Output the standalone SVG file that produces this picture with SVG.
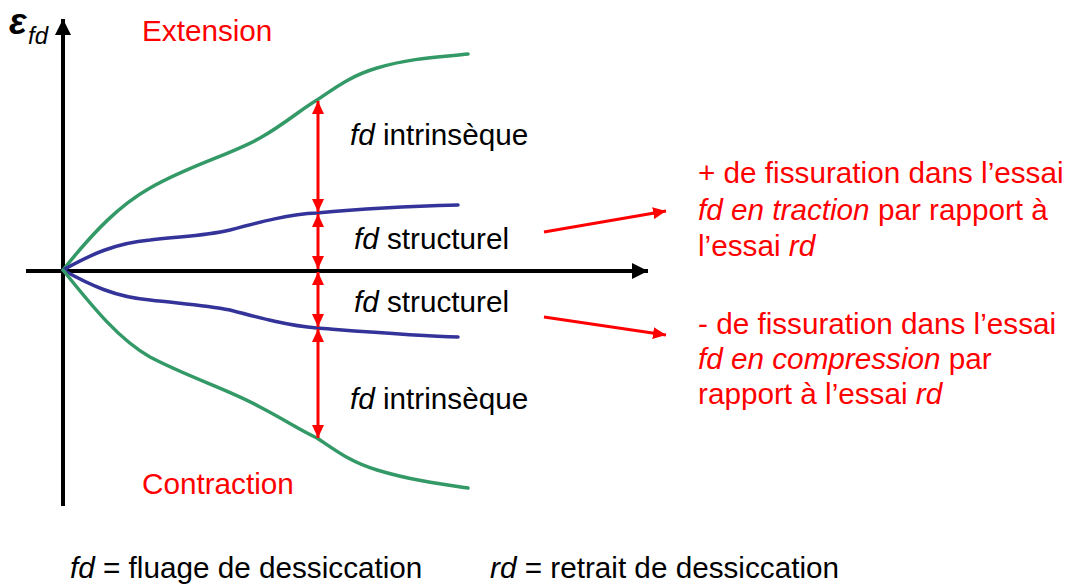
<svg xmlns="http://www.w3.org/2000/svg" width="1070" height="586" viewBox="0 0 1070 586">
<style>
text{font-family:"Liberation Sans",Arial,sans-serif;font-size:29.7px}
.r{fill:#ff0000}
.k{fill:#000}
.i{font-style:italic}
.curve{fill:none;stroke-width:3.5;stroke-linecap:round}
.g{stroke:#339966}
.b{stroke:#333399}
.ax{stroke:#000;stroke-width:4;fill:none}
.ra{stroke:#ff0000;stroke-width:3;fill:none}
</style>
<defs>
<marker id="ka" markerUnits="userSpaceOnUse" markerWidth="18" markerHeight="16" refX="16" refY="8" orient="auto"><path d="M0,0 L16,8 L0,16 Z" fill="#000"/></marker>
<marker id="rae" markerUnits="userSpaceOnUse" markerWidth="14" markerHeight="12" refX="13" refY="6" orient="auto"><path d="M0,0 L13,6 L0,12 Z" fill="#ff0000"/></marker>
<marker id="ras" markerUnits="userSpaceOnUse" markerWidth="14" markerHeight="12" refX="0" refY="6" orient="auto"><path d="M13,0 L0,6 L13,12 Z" fill="#ff0000"/></marker>
</defs>
<g id="axes">
<line class="ax" x1="63" y1="506" x2="63" y2="19" marker-end="url(#ka)"/>
<line class="ax" x1="26" y1="271" x2="648" y2="271" marker-end="url(#ka)"/>
</g>
<g id="curves">
<path id="green-up" class="curve g" d="M63,270 C95,230 120,205 150,188 C190,165 230,155 260,138 C285,124 300,110 317,100 C335,88 350,76 377,68 C410,58 440,57 468,54"/>
<path id="blue-up" class="curve b" d="M63,270 C90,255 115,243 150,240 C185,236 205,236 230,230 C260,222 290,214 317,213 C370,208 420,206 458,205"/>
<path id="blue-down" class="curve b" d="M63,270 C90,285 115,297 150,300 C185,304 205,305 230,310 C260,318 290,326 317,328 C370,332 420,336 458,337"/>
<path id="green-down" class="curve g" d="M63,270 C95,310 120,340 150,357 C190,378 230,390 260,407 C285,420 300,430 317,438 C335,450 350,462 377,470 C410,480 440,484 468,488"/>
</g>
<g id="connectors">
<line class="ra" x1="318" y1="101" x2="318" y2="212" marker-start="url(#ras)" marker-end="url(#rae)"/>
<line class="ra" x1="318" y1="214" x2="318" y2="269" marker-start="url(#ras)" marker-end="url(#rae)"/>
<line class="ra" x1="318" y1="272" x2="318" y2="327" marker-start="url(#ras)" marker-end="url(#rae)"/>
<line class="ra" x1="318" y1="329" x2="318" y2="438" marker-start="url(#ras)" marker-end="url(#rae)"/>
<line class="ra" x1="544" y1="232" x2="666" y2="211" marker-end="url(#rae)"/>
<line class="ra" x1="544" y1="317" x2="666" y2="335" marker-end="url(#rae)"/>
</g>
<g id="axis-label">
<text x="9" y="34" class="k" style="font-size:37px;font-weight:bold;font-style:italic">ε</text>
<text x="28" y="44" class="k i" style="font-size:24px">fd</text>
</g>
<g id="labels">
<text x="142" y="41" class="r">Extension</text>
<text x="142" y="494" class="r">Contraction</text>
<text x="350" y="145" class="k"><tspan class="i">fd</tspan> intrinsèque</text>
<text x="354" y="249" class="k"><tspan class="i">fd</tspan> structurel</text>
<text x="354" y="312" class="k"><tspan class="i">fd</tspan> structurel</text>
<text x="350" y="409" class="k"><tspan class="i">fd</tspan> intrinsèque</text>
</g>
<g id="note-plus">
<text x="698" y="183" class="r">+ de fissuration dans l’essai</text>
<text x="698" y="220" class="r"><tspan class="i">fd en traction</tspan> par rapport à</text>
<text x="698" y="256" class="r">l’essai <tspan class="i">rd</tspan></text>
</g>
<g id="note-minus">
<text x="698" y="334" class="r">- de fissuration dans l’essai</text>
<text x="698" y="369" class="r"><tspan class="i">fd en compression</tspan> par</text>
<text x="698" y="404" class="r">rapport à l’essai <tspan class="i">rd</tspan></text>
</g>
<g id="legend">
<text x="70" y="578" class="k"><tspan class="i">fd</tspan> = fluage de dessiccation</text>
<text x="490" y="578" class="k"><tspan class="i">rd</tspan> = retrait de dessiccation</text>
</g>
</svg>
